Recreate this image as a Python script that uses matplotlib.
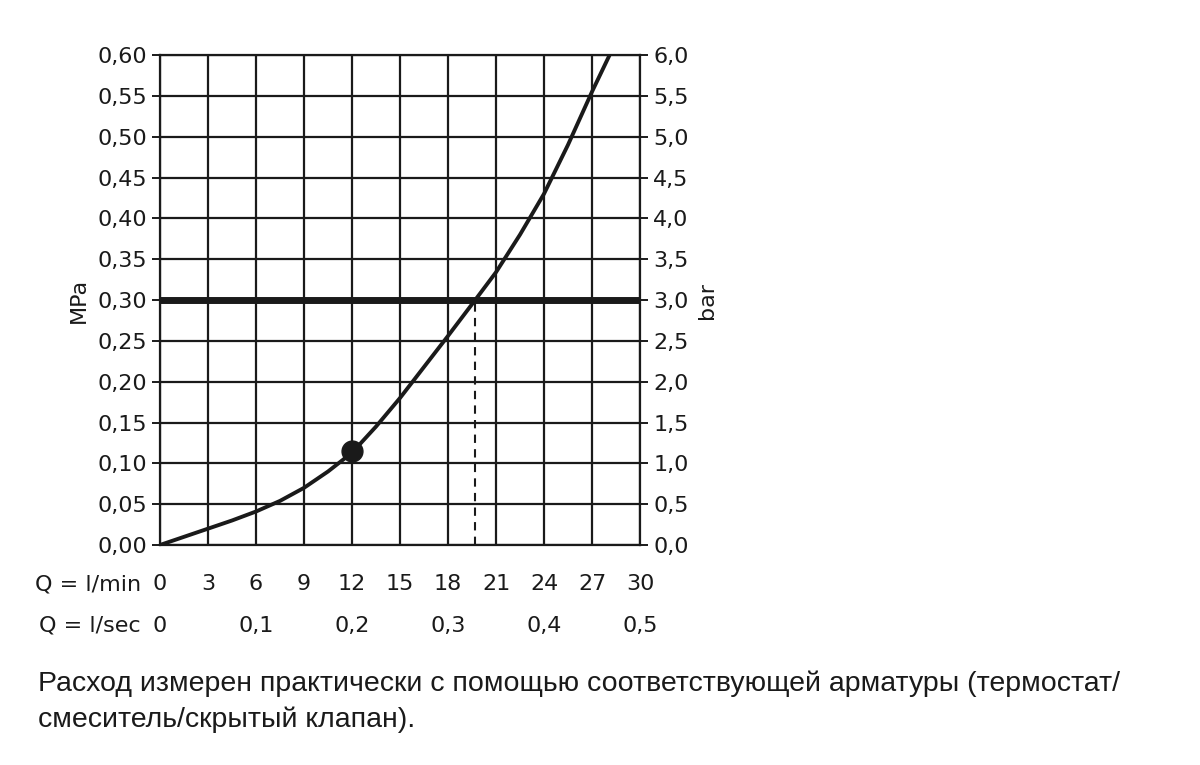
import matplotlib
matplotlib.use("Agg")
import matplotlib.pyplot as plt

# values
flow_lmin = [0, 1.5, 3, 4.5, 6, 7.5, 9, 10.5, 12, 13.5, 15, 16.5, 18, 19.7, 21, 22.5, 24, 25.5, 27, 28.1]
pressure_mpa = [0, 0.010, 0.020, 0.030, 0.041, 0.054, 0.070, 0.090, 0.113, 0.145, 0.180, 0.218, 0.256, 0.300, 0.334, 0.380, 0.430, 0.490, 0.555, 0.600]
dot_x, dot_y = 12, 0.115
ref_level = 0.30
ref_flow = 19.7

lmin_ticks = list(range(0, 31, 3))
lsec_pos = [0, 6, 12, 18, 24, 30]
lsec_labels = ["0", "0,1", "0,2", "0,3", "0,4", "0,5"]
mpa_ticks = [i * 0.05 for i in range(13)]
mpa_labels = [f"{v:.2f}".replace(".", ",") for v in mpa_ticks]
bar_labels = [f"{v * 10:.1f}".replace(".", ",") for v in mpa_ticks]
caption = ("Расход измерен практически с помощью соответствующей арматуры (термостат/\n"
           "смеситель/скрытый клапан).")

INK = "#1a1a1a"
FS = 16

fig = plt.figure(figsize=(12, 7.65), dpi=100)
ax = fig.add_axes([160 / 1200, 1 - 545 / 765, 480 / 1200, 490 / 765])

ax.plot(flow_lmin, pressure_mpa, color=INK, lw=2.8, zorder=4, solid_capstyle="round")
ax.axhline(ref_level, color=INK, lw=5, zorder=3)
ax.plot([ref_flow, ref_flow], [0, ref_level], color=INK, lw=1.5, ls=(0, (4, 3)), zorder=3)
ax.plot(dot_x, dot_y, "o", color=INK, ms=15, zorder=5)

ax.set_xlim(0, 30)
ax.set_ylim(0, 0.6)
ax.set_xticks(lmin_ticks)
ax.set_yticks(mpa_ticks)
ax.grid(True, color=INK, lw=1.6)
for s in ax.spines.values():
    s.set_color(INK)
    s.set_linewidth(1.6)
ax.tick_params(axis="x", length=0, labelbottom=False)
ax.tick_params(axis="y", length=6, width=1.4, color=INK, labelsize=FS, labelcolor=INK)
ax.set_yticklabels(mpa_labels)
ax.set_ylabel("MPa", fontsize=FS, color=INK, labelpad=6)

ax2 = ax.twinx()
ax2.set_ylim(0, 0.6)
ax2.set_yticks(mpa_ticks)
ax2.set_yticklabels(bar_labels)
ax2.tick_params(axis="y", length=6, width=1.4, color=INK, labelsize=FS, labelcolor=INK)
ax2.set_ylabel("bar", fontsize=FS, color=INK, labelpad=6)
for s in ax2.spines.values():
    s.set_visible(False)

tr = ax.get_xaxis_transform()
for v in lmin_ticks:
    ax.text(v, -0.08, str(v), transform=tr, ha="center", va="center", fontsize=FS, color=INK)
for v, lab in zip(lsec_pos, lsec_labels):
    ax.text(v, -0.165, lab, transform=tr, ha="center", va="center", fontsize=FS, color=INK)
ax.text(-1.2, -0.08, "Q = l/min", transform=tr, ha="right", va="center", fontsize=FS, color=INK)
ax.text(-1.2, -0.165, "Q = l/sec", transform=tr, ha="right", va="center", fontsize=FS, color=INK)

fig.text(38 / 1200, 1 - 702 / 765, caption, fontsize=20.5, color=INK,
         family="Liberation Sans", va="center", linespacing=1.45)

fig.savefig("out.png", facecolor="white")
